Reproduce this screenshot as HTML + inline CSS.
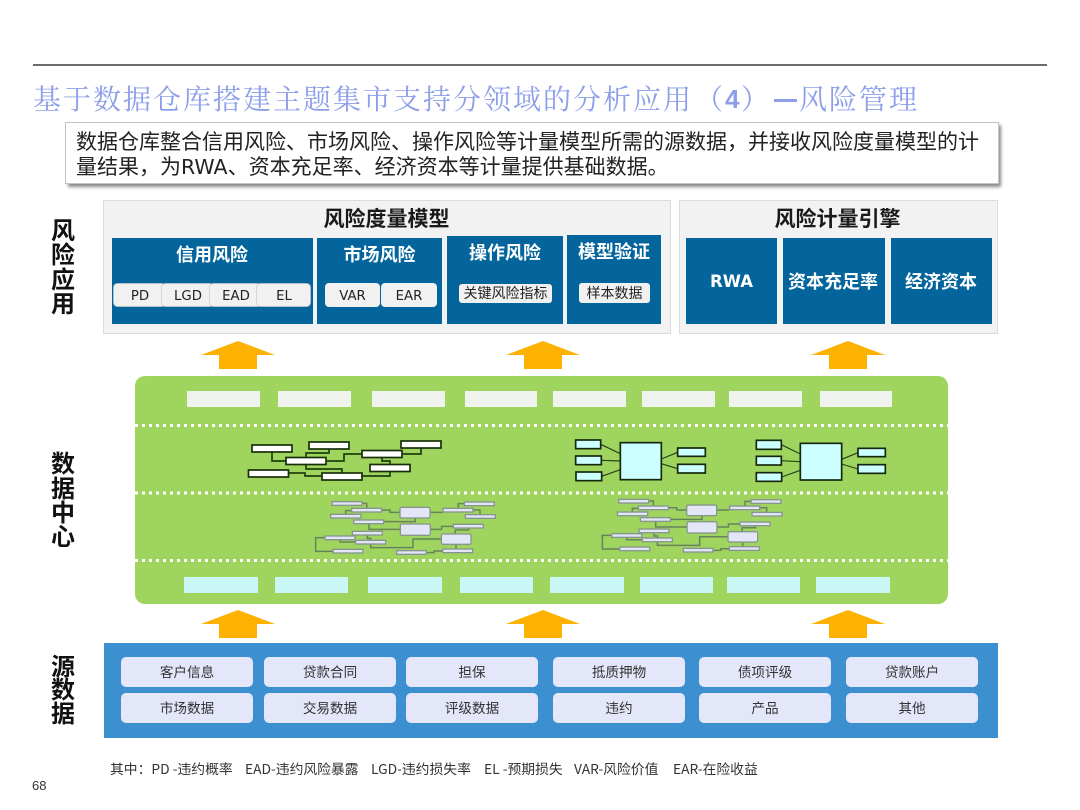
<!DOCTYPE html>
<html lang="zh">
<head>
<meta charset="utf-8">
<style>
html,body{margin:0;padding:0;background:#fff;width:1080px;height:810px;overflow:hidden}
svg{display:block}
text{font-family:"Liberation Sans","Noto Sans CJK SC",sans-serif}
.cjk{font-family:"Noto Sans CJK SC","Liberation Sans",sans-serif}
.dj{font-family:"DejaVu Sans","Liberation Sans",sans-serif}
.ti{font-family:"Liberation Serif","Noto Serif CJK SC",serif;font-size:28px;fill:#8d9eea;letter-spacing:2px}
.b21{font-size:21px;fill:#222}
.sec{font-size:24px;font-weight:700;fill:#111;text-anchor:middle}
.pt{font-size:21px;font-weight:700;fill:#1a1a1a;text-anchor:middle}
.wt{font-size:18px;font-weight:700;fill:#fff;text-anchor:middle}
.pl{font-size:14px;fill:#222;text-anchor:middle}
.pl.dj{font-size:13.3px}
.src{font-size:13.6px;fill:#333;text-anchor:middle}
.ft{font-size:13.8px;fill:#333}
.blue{fill:#03659b}
.pill{fill:#f1f1f1;stroke:#c9c9c9;stroke-width:.7}
.grn{fill:#f0f2ee}
.cy{fill:#c9f7f5}
.cell{fill:#e4e6f9}
.ar{fill:#fdb101}
.dot{stroke:#fff;stroke-width:3;stroke-dasharray:3 4;fill:none}
.c1 rect{fill:#fff;stroke:#17300a;stroke-width:1.7}
.c1 path{fill:none;stroke:#1f3f0e;stroke-width:1.7}
.c2 rect{fill:#e2e6f7;stroke:#87958f;stroke-width:4}
.c2 path{fill:none;stroke:#67835a;stroke-width:4.5}
.c3 rect{fill:#ccffff;stroke:#14260c;stroke-width:5}
.c3 path{fill:none;stroke:#25451a;stroke-width:3.5}
</style>
</head>
<body>
<svg width="1080" height="810" viewBox="0 0 1080 810" xmlns="http://www.w3.org/2000/svg">
<defs>
<filter id="sh" x="-5%" y="-20%" width="110%" height="140%"><feGaussianBlur stdDeviation="1.5"/></filter>
<polygon id="arw" class="ar" points="0,0 37,14 19,14 19,28 -19,28 -19,14 -37,14"/>
<g id="fc2" class="c2" transform="scale(.33333)">
<path d="M396 385H410V400M347 418V407H365M455 405H480V412H510M461 440H556V429M417 446V463H511M601 463H635V454H670M600 412H639M685 400V386H703M730 405H750V419M676 476V465H716V459M412 480V490H422V496M330 494V501H377M285 488H257V529H309M422 507V518H549V492H634M589 533H612V528H638M678 508V522"/>
<rect x="306" y="380" width="90" height="11"/><rect x="365" y="400" width="90" height="11"/><rect x="302" y="418" width="91" height="11"/><rect x="371" y="435" width="90" height="11"/><rect x="367" y="469" width="90" height="11"/><rect x="285" y="483" width="90" height="11"/><rect x="377" y="496" width="90" height="11"/><rect x="309" y="523" width="90" height="11"/><rect x="500" y="527" width="89" height="11"/><rect x="638" y="522" width="90" height="11"/><rect x="670" y="448" width="90" height="11"/><rect x="639" y="400" width="90" height="11"/><rect x="703" y="381" width="90" height="11"/><rect x="706" y="419" width="90" height="11"/>
<rect x="510" y="397" width="90" height="32" rx="5"/><rect x="511" y="447" width="90" height="34" rx="5"/><rect x="634" y="477" width="89" height="31" rx="5"/>
</g>
</defs>

<line x1="33" y1="65" x2="1047" y2="65" stroke="#3a3a3a" stroke-width="1.5"/>

<text class="ti" x="33" y="109">基于数据仓库搭建主题集市支持分领域的分析应用</text>
<text class="ti" x="695" y="109">（</text>
<text x="725" y="108" style="font-size:26px;font-weight:700;fill:#8d9eea">4</text>
<text class="ti" x="741" y="109">）</text>
<rect x="774" y="99" width="23" height="3" fill="#8d9eea"/>
<text class="ti" x="799" y="109">风险管理</text>

<rect x="68" y="125" width="933" height="62" fill="#8a8a8a" filter="url(#sh)"/>
<rect x="65.5" y="122.5" width="933" height="61" fill="#fff" stroke="#c4c4c4"/>
<text class="b21 cjk" x="76" y="149">数据仓库整合信用风险、市场风险、操作风险等计量模型所需的源数据，并接收风险度量模型的计</text>
<text class="b21 cjk" x="76" y="174">量结果，为<tspan class="dj" style="font-size:20.5px">RWA</tspan>、资本充足率、经济资本等计量提供基础数据。</text>

<text class="sec cjk" x="63" y="239">风</text><text class="sec cjk" x="63" y="263">险</text><text class="sec cjk" x="63" y="288">应</text><text class="sec cjk" x="63" y="312">用</text>
<text class="sec cjk" x="63" y="472">数</text><text class="sec cjk" x="63" y="497">据</text><text class="sec cjk" x="63" y="521">中</text><text class="sec cjk" x="63" y="545">心</text>
<text class="sec cjk" x="63" y="675">源</text><text class="sec cjk" x="63" y="698">数</text><text class="sec cjk" x="63" y="722">据</text>

<rect x="103.5" y="200.5" width="567" height="133" fill="#f2f2f2" stroke="#dcdcdc"/>
<rect x="679.5" y="200.5" width="318" height="133" fill="#f2f2f2" stroke="#dcdcdc"/>
<text class="pt cjk" x="386.5" y="226">风险度量模型</text>
<text class="pt cjk" x="837.5" y="226">风险计量引擎</text>

<rect class="blue" x="112" y="238" width="201" height="86"/>
<rect class="blue" x="317" y="238" width="125" height="86"/>
<rect class="blue" x="447" y="236" width="116" height="88"/>
<rect class="blue" x="567" y="235" width="94" height="89"/>
<rect class="blue" x="686" y="238" width="91" height="86"/>
<rect class="blue" x="783" y="238" width="102" height="86"/>
<rect class="blue" x="891" y="238" width="101" height="86"/>

<text class="wt cjk" x="212" y="261">信用风险</text>
<text class="wt cjk" x="379.5" y="261">市场风险</text>
<text class="wt cjk" x="505" y="259">操作风险</text>
<text class="wt cjk" x="614" y="258">模型验证</text>
<text class="wt dj" x="731.5" y="287" style="font-size:16.5px">RWA</text>
<text class="wt cjk" x="833" y="288">资本充足率</text>
<text class="wt cjk" x="941" y="288">经济资本</text>

<rect class="pill" x="113.5" y="283.5" width="52" height="23" rx="4"/>
<rect class="pill" x="161.5" y="283.5" width="52" height="23" rx="4"/>
<rect class="pill" x="209.5" y="283.5" width="52" height="23" rx="4"/>
<rect class="pill" x="256.5" y="283.5" width="54" height="23" rx="4"/>
<rect class="pill" x="325" y="283" width="55" height="24" rx="4" style="stroke:none"/>
<rect class="pill" x="381" y="283" width="56" height="24" rx="4" style="stroke:none"/>
<rect class="pill" x="459" y="284" width="93" height="19" rx="3" style="stroke:none"/>
<rect class="pill" x="579" y="283" width="71" height="20" rx="3" style="stroke:none"/>
<text class="pl dj" x="140" y="300">PD</text>
<text class="pl dj" x="188" y="300">LGD</text>
<text class="pl dj" x="236" y="300">EAD</text>
<text class="pl dj" x="284" y="300">EL</text>
<text class="pl dj" x="352.5" y="300">VAR</text>
<text class="pl dj" x="409" y="300">EAR</text>
<text class="pl cjk" x="505.5" y="298" style="font-size:14px">关键风险指标</text>
<text class="pl cjk" x="614.5" y="298" style="font-size:14px">样本数据</text>

<use href="#arw" x="238" y="341"/><use href="#arw" x="543" y="341"/><use href="#arw" x="848" y="341"/>

<rect x="135" y="376" width="813" height="228" rx="10" fill="#9fd55e"/>
<rect class="grn" x="187" y="391" width="73" height="16"/><rect class="grn" x="278" y="391" width="73" height="16"/><rect class="grn" x="372" y="391" width="73" height="16"/><rect class="grn" x="465" y="391" width="72" height="16"/><rect class="grn" x="553" y="391" width="73" height="16"/><rect class="grn" x="642" y="391" width="73" height="16"/><rect class="grn" x="729" y="391" width="73" height="16"/><rect class="grn" x="820" y="391" width="72" height="16"/>
<path class="dot" d="M135 425.5H948M135 493H948M135 560.5H948"/>
<rect class="cy" x="184" y="577" width="74" height="16"/><rect class="cy" x="275" y="577" width="73" height="16"/><rect class="cy" x="368" y="577" width="74" height="16"/><rect class="cy" x="460" y="577" width="73" height="16"/><rect class="cy" x="550" y="577" width="74" height="16"/><rect class="cy" x="640" y="577" width="73" height="16"/><rect class="cy" x="727" y="577" width="73" height="16"/><rect class="cy" x="816" y="577" width="74" height="16"/>

<g class="c1">
<path d="M272 452V461H286M329 449V453H306V457M327 461H344V454H362M402 454H421V448M382 457V461H390V464M306 465V469H342V473M289 473H305V476H322M362 476H390V472"/>
<rect x="252" y="445" width="40" height="7"/><rect x="309" y="442" width="40" height="7"/><rect x="286" y="457.5" width="40" height="7"/><rect x="362" y="450.5" width="40" height="7"/><rect x="401" y="441" width="40" height="7"/><rect x="370" y="464.5" width="40" height="7"/><rect x="248.5" y="470" width="40" height="7"/><rect x="322" y="473" width="40" height="7"/>
</g>

<use href="#fc2" transform="translate(230,375)"/>
<use href="#fc2" transform="translate(516.7,372.7)"/>

<g class="c3" transform="translate(560,425) scale(.33333)">
<path d="M122 58L181 86M124 106L181 108M125 154L181 134M304 102L353 82M304 116L353 131M664 59L721 87M664 107L721 110M665 156L721 136M845 103L894 83M845 117L894 132"/>
<rect x="47" y="45" width="75" height="26"/><rect x="47" y="93" width="77" height="26"/><rect x="48" y="141" width="77" height="26"/><rect x="353" y="69" width="83" height="25"/><rect x="353" y="118" width="83" height="26"/><rect x="181" y="53" width="123" height="111"/>
<rect x="589" y="46" width="75" height="27"/><rect x="589" y="94" width="75" height="26"/><rect x="589" y="143" width="76" height="26"/><rect x="894" y="70" width="82" height="25"/><rect x="894" y="119" width="82" height="26"/><rect x="721" y="55" width="124" height="110"/>
</g>

<use href="#arw" x="238" y="610"/><use href="#arw" x="543" y="610"/><use href="#arw" x="848" y="610"/>

<rect x="104" y="643" width="894" height="95" fill="#3d90cf"/>
<rect class="cell" x="121" y="657" width="132" height="30" rx="5"/><rect class="cell" x="264" y="657" width="132" height="30" rx="5"/><rect class="cell" x="406" y="657" width="132" height="30" rx="5"/><rect class="cell" x="553" y="657" width="132" height="30" rx="5"/><rect class="cell" x="699" y="657" width="132" height="30" rx="5"/><rect class="cell" x="846" y="657" width="132" height="30" rx="5"/>
<rect class="cell" x="121" y="693" width="132" height="30" rx="5"/><rect class="cell" x="264" y="693" width="132" height="30" rx="5"/><rect class="cell" x="406" y="693" width="132" height="30" rx="5"/><rect class="cell" x="553" y="693" width="132" height="30" rx="5"/><rect class="cell" x="699" y="693" width="132" height="30" rx="5"/><rect class="cell" x="846" y="693" width="132" height="30" rx="5"/>
<text class="src cjk" x="187" y="677">客户信息</text><text class="src cjk" x="330" y="677">贷款合同</text><text class="src cjk" x="472" y="677">担保</text><text class="src cjk" x="619" y="677">抵质押物</text><text class="src cjk" x="765" y="677">债项评级</text><text class="src cjk" x="912" y="677">贷款账户</text>
<text class="src cjk" x="187" y="713">市场数据</text><text class="src cjk" x="330" y="713">交易数据</text><text class="src cjk" x="472" y="713">评级数据</text><text class="src cjk" x="619" y="713">违约</text><text class="src cjk" x="765" y="713">产品</text><text class="src cjk" x="912" y="713">其他</text>

<text class="ft cjk" x="110" y="774">其中：PD -违约概率</text>
<text class="ft cjk" x="245" y="774">EAD-违约风险暴露</text>
<text class="ft cjk" x="371" y="774">LGD-违约损失率</text>
<text class="ft cjk" x="484" y="774">EL -预期损失</text>
<text class="ft cjk" x="574" y="774">VAR-风险价值</text>
<text class="ft cjk" x="673" y="774">EAR-在险收益</text>
<text x="32" y="790" style="font-size:13px;fill:#333">68</text>
</svg>
</body>
</html>
